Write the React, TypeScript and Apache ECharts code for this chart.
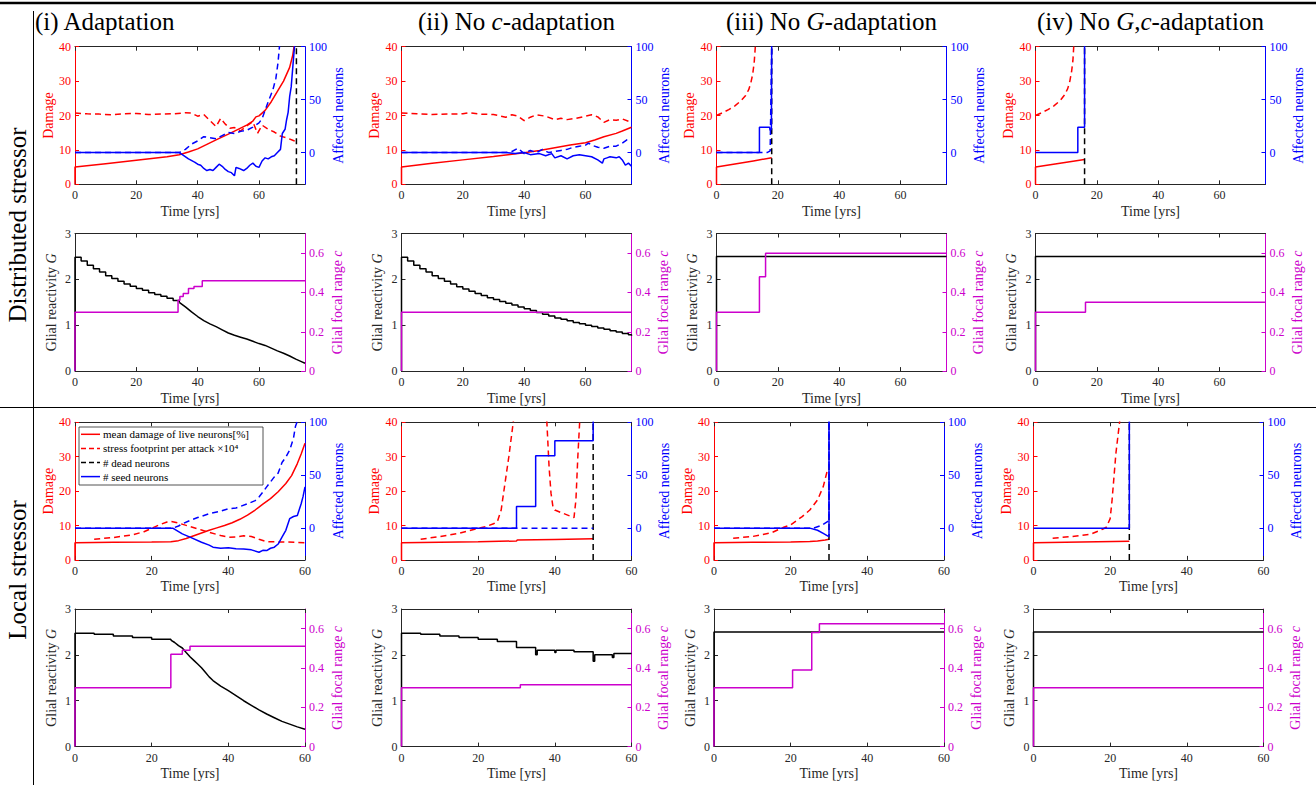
import React, { useEffect, useRef } from "react";
import * as echarts from "echarts";

type P = [number, number];

// ---------- text ----------
const columnTitles = [
  "{n|(i) Adaptation}",
  "{n|(ii) No }{i|c}{n|-adaptation}",
  "{n|(iii) No }{i|G}{n|-adaptation}",
  "{n|(iv) No }{i|G}{n|,}{i|c}{n|-adaptation}",
];
const rowTitles = ["Distributed stressor", "Local stressor"];
const legendLabels = [
  "mean damage of live neurons[%]",
  "stress footprint per attack ×10⁴",
  "# dead neurons",
  "# seed neurons",
];
const xAxisName = "Time [yrs]";
const damageName = "Damage";
const affectedName = "Affected neurons";
const gName = "{n|Glial reactivity }{i|G}";
const cName = "{n|Glial focal range }{i|c}";

// ---------- ticks / ranges ----------
const xTicks = [0, 20, 40, 60];
const damageTicks = [0, 10, 20, 30, 40];
const affectedTicks = [0, 50, 100];
const gTicks = [0, 1, 2, 3];
const cTicks = [0, 0.2, 0.4, 0.6];
const xMaxDistributed = 75;
const xMaxLocal = 60;
const damageRange = [0, 40];
const affectedRange = [-30, 100];
const gRange = [0, 3];
const cRange = [0, 0.7];

// ---------- Distributed stressor, damage panels ----------
const d1Damage: P[] = [[0, 0], [0, 5], [10, 6], [20, 7], [30, 8], [34, 8.6], [37, 9.4], [40, 10.3], [43, 11.6], [46, 12.9], [50, 14.6], [53, 15.9], [56, 17.2], [58, 18.4], [59, 19.6], [60, 19.9], [62, 21.5], [64, 24], [66, 27], [68, 30], [70, 34], [71, 37.5], [71.5, 40.5]];
const d1Stress: P[] = [[0, 20.7], [4, 20.5], [8, 20.4], [12, 20.2], [16, 20.5], [20, 20.6], [24, 20.3], [28, 20.4], [32, 20.5], [36, 20.8], [38, 20.7], [40, 19.8], [42, 20.3], [44, 18.5], [46, 16.8], [47.5, 19.2], [49, 17.5], [50.5, 16.3], [52, 16.5], [54, 15.5], [56, 17], [58, 18.2], [59.5, 14.8], [61, 17.2], [63, 16], [65, 15.2], [67, 14], [69, 13.5], [71, 12.8], [72.2, 12.3]];
const d1Dead: P[] = [[0, 0], [34, 0], [36, 3], [38, 8], [40, 11], [42, 15], [44, 14], [46, 13], [48, 16], [50, 19], [52, 18], [54, 20], [56, 21], [58, 24], [60, 28], [61, 32], [62, 40], [63, 48], [64.5, 59], [65.5, 70], [66.2, 85], [66.7, 101]];
const d1Seed: P[] = [[0, 0], [34, 0], [35, -2], [37, -6], [39, -9], [40, -11], [41, -12], [42, -15], [43, -17], [44, -16], [45, -17], [46, -14], [47, -11], [48, -13], [49, -16], [50, -18], [51, -19], [52, -22], [52.5, -14], [53.5, -15], [55, -17], [56, -15], [57, -12], [58, -10], [59, -13], [60, -14], [61, -8], [62, -5], [63, -6], [64, -4], [65, -3], [66, 0], [67, 3], [67.6, 18], [68.5, 22], [69, 31], [69.5, 38], [70, 53], [70.5, 62], [71, 80], [71.6, 101]];
const d1DeathT = 72.2;

const d2Damage: P[] = [[0, 0], [0, 5], [10, 6.1], [20, 7.1], [30, 8.1], [40, 9.2], [45, 9.8], [50, 10.6], [55, 11.4], [60, 12.1], [63, 12.9], [66, 13.8], [70, 14.8], [72, 15.5], [75, 16.6]];
const d2Stress: P[] = [[0, 20.7], [5, 20.5], [10, 20.3], [15, 20.4], [20, 20.5], [22, 20.8], [26, 20.4], [30, 20.3], [34, 19.5], [36, 20.2], [38, 19.8], [40, 18.5], [42, 19.5], [44, 20.2], [47, 19.8], [50, 18.8], [52, 19.2], [54, 18.8], [57, 19.2], [60, 19.8], [62, 20.2], [64, 19.6], [66, 18], [68, 18.8], [70, 18.6], [72, 19], [75, 18]];
const d2Dead: P[] = [[0, 0], [34, 0], [36, 1], [38, 4], [40, -1], [42, 2], [44, 0], [46, 3], [48, 0], [50, 1], [52, 2], [54, 3], [56, 5], [58, 6], [60, 7], [61, 9], [62, 7], [64, 5], [66, 4], [68, 6], [70, 6], [72, 9], [73.5, 12], [75, 13]];
const d2Seed: P[] = [[0, 0], [34, 0], [37, -1], [40, 0], [42, -2], [45, -1], [47, -3], [49, -1], [50, -5], [52, -3], [54, -6], [56, -3], [58, -2], [60, -3], [62, -4], [64, -7], [65.5, -10], [66, -6], [67, -5], [68, -4], [70, -5], [71, -4], [72, -7], [73, -12], [74, -10], [75, -13]];

const d3Damage: P[] = [[0, 0], [0, 5], [6, 5.9], [12, 6.8], [18, 7.7]];
const d3Stress: P[] = [[0, 20], [2, 20.8], [4, 21.7], [6, 22.8], [8, 24.3], [9.5, 25.8], [10.5, 27.5], [11.2, 29.5], [11.8, 32], [12.3, 35.5], [12.7, 40.5]];
const d3Dead: P[] = [[0, 0], [16.5, 0], [17.5, 1.5], [18, 101]];
const d3Seed: P[] = [[0, 0], [14, 0], [14, 24], [17.3, 24], [17.5, 21], [17.9, 22], [18, 101]];
const d3DeathT = 18;

const d4Damage: P[] = [[0, 0], [0, 5], [8, 6.1], [16, 7.2]];
const d4Stress: P[] = [[0, 20], [2, 20.8], [4, 21.7], [6, 22.8], [8, 24.3], [9.5, 26], [10.5, 27.8], [11.2, 30], [11.8, 33], [12.2, 36], [12.5, 40.5]];
const d4Seed: P[] = [[0, 0], [13.8, 0], [13.8, 24], [16, 24], [16, 101]];
const d4DeathT = 16;

// ---------- Distributed stressor, glia panels ----------
const dG1Steps: P[] = [[0, 0], [0, 2.48], [2, 2.4], [4, 2.31], [6, 2.23], [8, 2.16], [10, 2.08], [12, 2.02], [14, 1.96], [16, 1.9], [18, 1.85], [20, 1.8], [22, 1.76], [24, 1.71], [26, 1.67], [28, 1.63], [30, 1.59], [32, 1.54], [34, 1.5]];
const dG1Smooth: P[] = [[34, 1.5], [36, 1.4], [38, 1.29], [40, 1.19], [42, 1.1], [44, 1.03], [46, 0.97], [48, 0.9], [50, 0.83], [52, 0.78], [54, 0.74], [56, 0.7], [58, 0.65], [60, 0.6], [62, 0.56], [64, 0.5], [66, 0.44], [68, 0.39], [70, 0.33], [72, 0.26], [74, 0.2], [75, 0.17]];
const dC1: P[] = [[0, 0], [0, 0.3], [33.6, 0.36], [34.2, 0.38], [35.3, 0.395], [37, 0.42], [38.8, 0.43], [41.5, 0.46], [75, 0.46]];
const dG2: P[] = [[0, 0], [0, 2.48], [2, 2.4], [4, 2.31], [6, 2.23], [8, 2.16], [10, 2.08], [12, 2.02], [14, 1.96], [16, 1.9], [18, 1.84], [20, 1.79], [22, 1.74], [24, 1.69], [26, 1.65], [28, 1.6], [30, 1.56], [32, 1.52], [34, 1.48], [36, 1.44], [38, 1.4], [40, 1.36], [42, 1.32], [44, 1.28], [46, 1.24], [48, 1.2], [50, 1.16], [52, 1.13], [54, 1.1], [56, 1.06], [58, 1.03], [60, 1.0], [62, 0.97], [64, 0.94], [66, 0.91], [68, 0.88], [70, 0.85], [72, 0.82], [74, 0.79], [75, 0.77]];
const dC2: P[] = [[0, 0], [0, 0.3], [75, 0.3]];
const dG3: P[] = [[0, 0], [0, 2.5], [75, 2.5]];
const dC3: P[] = [[0, 0], [0, 0.3], [14, 0.48], [16, 0.6], [75, 0.6]];
const dG4: P[] = [[0, 0], [0, 2.5], [75, 2.5]];
const dC4: P[] = [[0, 0], [0, 0.3], [16.3, 0.35], [75, 0.35]];

// ---------- Local stressor, damage panels ----------
const l1Damage: P[] = [[0, 0], [0, 5], [10, 5.1], [20, 5.2], [25, 5.3], [27, 5.6], [29, 6.2], [31, 7], [33, 7.8], [35, 8.6], [37, 9.3], [39, 10], [41, 10.8], [43, 11.8], [45, 13], [47, 14.5], [49, 16.2], [51, 17.8], [53, 19.8], [55, 22.2], [56.5, 24.5], [58, 28], [59, 30.8], [60, 33.9]];
const l1Stress: P[] = [[5, 6], [10, 6.5], [15, 7.3], [18, 8.2], [20, 9.2], [22, 10.2], [24, 11], [25, 11.2], [27, 10.7], [30, 9.7], [33, 8.7], [35, 8], [38, 7.1], [40, 6.6], [42, 6.7], [44, 7], [46, 6.8], [48, 6], [50, 5.3], [55, 5.2], [60, 5]];
const l1Dead: P[] = [[0, 0], [25.5, 0], [27, 2], [28, 4], [30, 7.3], [32, 10], [35, 13.6], [38, 16], [40, 18.4], [42, 19], [45, 23], [47, 26], [48, 29.4], [49, 34], [50, 39], [52, 48.4], [53, 52], [54, 62], [55, 67], [56, 73.7], [57, 85], [57.5, 96], [58, 101]];
const l1Seed: P[] = [[0, 0], [25.5, 0], [28, -5.4], [30, -8.5], [33, -13.3], [35, -16], [36, -18], [38, -19], [40, -18.5], [42, -19.5], [44, -19.6], [46, -20.5], [48, -22.8], [49, -21], [50, -21.2], [51, -19], [52, -18], [53, -15], [54, -8.5], [55, -2], [56, 8.9], [57, 11], [58, 12], [59, 23], [59.5, 30], [60, 39]];

const l2Damage: P[] = [[0, 0], [0, 5], [10, 5.15], [20, 5.3], [30, 5.5], [30.2, 5.75], [40, 5.95], [50, 6.15]];
const l2StressA: P[] = [[5, 6], [10, 6.8], [15, 7.7], [20, 9.2], [22, 9.7], [24, 10.5], [25, 11.1], [26, 14.5], [27, 22.3], [28, 30], [29, 38.7], [29.2, 40.5]];
const l2StressB: P[] = [[37.9, 40.5], [38.5, 27], [39, 19.4], [39.5, 15.5], [40, 14.5], [42, 13.6], [45, 12.3], [45.5, 17.4], [46, 30], [46.5, 40.5]];
const l2Dead: P[] = [[0, 0], [50, 0]];
const l2Seed: P[] = [[0, 0], [30, 0], [30, 20.5], [35, 20.5], [35, 68.5], [40, 68.5], [40, 82.5], [50, 82.5], [50, 101]];
const l2DeathT = 50;

const l3Damage: P[] = [[0, 0], [0, 5], [10, 5.1], [20, 5.2], [25, 5.35], [27, 5.5], [29, 5.8], [30, 6]];
const l3Stress: P[] = [[5, 6.3], [10, 6.8], [15, 7.9], [18, 9.4], [20, 10.2], [23, 12.6], [25, 14.5], [27, 17.4], [28.5, 21.3], [29.5, 25.7]];
const l3Dead: P[] = [[0, 0], [26, 0], [28, 2.5], [29.5, 6], [30, 7], [30, 101]];
const l3Seed: P[] = [[0, 0], [25, 0], [27, -2], [28.5, -5], [29.5, -7], [30, -8], [30, 101]];
const l3DeathT = 30;

const l4Damage: P[] = [[0, 0], [0, 5], [25, 5.4]];
const l4Stress: P[] = [[5, 6.3], [10, 6.8], [15, 7.5], [18, 8.9], [19, 9.5], [20, 12], [20.5, 17.4], [21, 24.2], [21.5, 31], [22.5, 40.5]];
const l4Seed: P[] = [[0, 0], [25, 0], [25, 101]];
const l4DeathT = 25;

// ---------- Local stressor, glia panels ----------
const lG1Steps: P[] = [[0, 0], [0, 2.47], [5, 2.45], [10, 2.41], [15, 2.38], [20, 2.34], [25, 2.32]];
const lG1Smooth: P[] = [[25, 2.32], [26, 2.27], [27, 2.2], [28, 2.15], [29, 2.05], [30, 1.96], [31, 1.88], [32, 1.8], [33, 1.72], [34, 1.62], [35, 1.52], [36, 1.44], [37, 1.38], [38, 1.32], [39, 1.27], [40, 1.22], [42, 1.11], [44, 1.0], [46, 0.9], [48, 0.8], [50, 0.71], [52, 0.63], [54, 0.55], [56, 0.49], [58, 0.43], [60, 0.38]];
const lC1: P[] = [[0, 0], [0, 0.3], [25, 0.47], [28, 0.49], [30, 0.51], [60, 0.51]];
const lG2: P[] = [[0, 0], [0, 2.47], [5, 2.45], [10, 2.41], [15, 2.38], [20, 2.34], [25, 2.29], [30, 2.16], [35, 2.0], [35.4, 2.1], [40, 2.05], [40.3, 2.1], [45, 2.07], [50, 1.86], [50.4, 2.0], [55, 1.94], [55.4, 2.03], [60, 2.03]];
const lC2: P[] = [[0, 0], [0, 0.3], [31, 0.315], [60, 0.315]];
const lG3: P[] = [[0, 0], [0, 2.5], [60, 2.5]];
const lC3: P[] = [[0, 0], [0, 0.3], [20.5, 0.39], [25.5, 0.58], [27.5, 0.625], [60, 0.625]];
const lG4: P[] = [[0, 0], [0, 2.5], [60, 2.5]];
const lC4: P[] = [[0, 0], [0, 0.3], [60, 0.3]];

// ---------- styling / layout ----------
const SERIF = "Liberation Serif, serif";
const DARK = "#262626";
const RED = "#ff0000";
const BLUE = "#0000ff";
const MAG = "#cc00cc";
const BLK = "#000000";
const COL_LEFT_UP = [75, 401.5, 716.5, 1035.5];
const COL_LEFT_LOW = [75, 401.5, 714, 1033.5];
const ROW_TOP = [46.7, 233.5, 422.3, 609];
const PLOT_W = 230;
const PLOT_H = 137.6;

type S = { d: P[]; y: 0 | 1; c: string; dash?: boolean; step?: boolean };
type Panel = { row: number; col: number; kind: "dmg" | "glia"; xMax: number; series: S[] };

const vline = (t: number): P[] => [[t, affectedRange[0]], [t, affectedRange[1]]];

const panels: Panel[] = [
  { row: 0, col: 0, kind: "dmg", xMax: xMaxDistributed, series: [
    { d: d1Damage, y: 0, c: RED }, { d: d1Stress, y: 0, c: RED, dash: true },
    { d: vline(d1DeathT), y: 1, c: BLK, dash: true },
    { d: d1Dead, y: 1, c: BLUE, dash: true }, { d: d1Seed, y: 1, c: BLUE }] },
  { row: 0, col: 1, kind: "dmg", xMax: xMaxDistributed, series: [
    { d: d2Damage, y: 0, c: RED }, { d: d2Stress, y: 0, c: RED, dash: true },
    { d: d2Dead, y: 1, c: BLUE, dash: true }, { d: d2Seed, y: 1, c: BLUE }] },
  { row: 0, col: 2, kind: "dmg", xMax: xMaxDistributed, series: [
    { d: d3Damage, y: 0, c: RED }, { d: d3Stress, y: 0, c: RED, dash: true },
    { d: vline(d3DeathT), y: 1, c: BLK, dash: true },
    { d: d3Dead, y: 1, c: BLUE, dash: true }, { d: d3Seed, y: 1, c: BLUE }] },
  { row: 0, col: 3, kind: "dmg", xMax: xMaxDistributed, series: [
    { d: d4Damage, y: 0, c: RED }, { d: d4Stress, y: 0, c: RED, dash: true },
    { d: vline(d4DeathT), y: 1, c: BLK, dash: true }, { d: d4Seed, y: 1, c: BLUE }] },
  { row: 1, col: 0, kind: "glia", xMax: xMaxDistributed, series: [
    { d: dG1Steps, y: 0, c: BLK, step: true }, { d: dG1Smooth, y: 0, c: BLK }, { d: dC1, y: 1, c: MAG, step: true }] },
  { row: 1, col: 1, kind: "glia", xMax: xMaxDistributed, series: [
    { d: dG2, y: 0, c: BLK, step: true }, { d: dC2, y: 1, c: MAG, step: true }] },
  { row: 1, col: 2, kind: "glia", xMax: xMaxDistributed, series: [
    { d: dG3, y: 0, c: BLK, step: true }, { d: dC3, y: 1, c: MAG, step: true }] },
  { row: 1, col: 3, kind: "glia", xMax: xMaxDistributed, series: [
    { d: dG4, y: 0, c: BLK, step: true }, { d: dC4, y: 1, c: MAG, step: true }] },
  { row: 2, col: 0, kind: "dmg", xMax: xMaxLocal, series: [
    { d: l1Damage, y: 0, c: RED }, { d: l1Stress, y: 0, c: RED, dash: true },
    { d: l1Dead, y: 1, c: BLUE, dash: true }, { d: l1Seed, y: 1, c: BLUE }] },
  { row: 2, col: 1, kind: "dmg", xMax: xMaxLocal, series: [
    { d: l2Damage, y: 0, c: RED }, { d: l2StressA, y: 0, c: RED, dash: true }, { d: l2StressB, y: 0, c: RED, dash: true },
    { d: vline(l2DeathT), y: 1, c: BLK, dash: true },
    { d: l2Dead, y: 1, c: BLUE, dash: true }, { d: l2Seed, y: 1, c: BLUE }] },
  { row: 2, col: 2, kind: "dmg", xMax: xMaxLocal, series: [
    { d: l3Damage, y: 0, c: RED }, { d: l3Stress, y: 0, c: RED, dash: true },
    { d: vline(l3DeathT), y: 1, c: BLK, dash: true },
    { d: l3Dead, y: 1, c: BLUE, dash: true }, { d: l3Seed, y: 1, c: BLUE }] },
  { row: 2, col: 3, kind: "dmg", xMax: xMaxLocal, series: [
    { d: l4Damage, y: 0, c: RED }, { d: l4Stress, y: 0, c: RED, dash: true },
    { d: vline(l4DeathT), y: 1, c: BLK, dash: true }, { d: l4Seed, y: 1, c: BLUE }] },
  { row: 3, col: 0, kind: "glia", xMax: xMaxLocal, series: [
    { d: lG1Steps, y: 0, c: BLK, step: true }, { d: lG1Smooth, y: 0, c: BLK }, { d: lC1, y: 1, c: MAG, step: true }] },
  { row: 3, col: 1, kind: "glia", xMax: xMaxLocal, series: [
    { d: lG2, y: 0, c: BLK, step: true }, { d: lC2, y: 1, c: MAG, step: true }] },
  { row: 3, col: 2, kind: "glia", xMax: xMaxLocal, series: [
    { d: lG3, y: 0, c: BLK, step: true }, { d: lC3, y: 1, c: MAG, step: true }] },
  { row: 3, col: 3, kind: "glia", xMax: xMaxLocal, series: [
    { d: lG4, y: 0, c: BLK, step: true }, { d: lC4, y: 1, c: MAG, step: true }] },
];

function richName(color: string) {
  return {
    n: { fontFamily: SERIF, fontSize: 14, color },
    i: { fontFamily: SERIF, fontSize: 14, color, fontStyle: "italic" },
  };
}

function yAxisDef(i: number, side: "left" | "right", min: number, max: number, ticks: number[], color: string, lineColor: string, name: string, gap: number, rich?: any) {
  return {
    type: "value", gridIndex: i, position: side, min, max,
    axisLine: { show: true, onZero: false, lineStyle: { color: lineColor, width: 1 } },
    axisTick: { show: true, inside: true, length: 4, customValues: ticks, lineStyle: { color: lineColor } },
    axisLabel: { customValues: ticks, margin: 4, color, fontFamily: SERIF, fontSize: 12 },
    splitLine: { show: false },
    name, nameLocation: "middle", nameGap: gap, nameRotate: 90,
    nameTextStyle: rich ? { rich, fontFamily: SERIF, fontSize: 14, color } : { color, fontFamily: SERIF, fontSize: 14 },
  };
}

function buildOption() {
  const grid: any[] = [];
  const xAxis: any[] = [];
  const yAxis: any[] = [];
  const series: any[] = [];
  panels.forEach((p, i) => {
    const left = p.row < 2 ? COL_LEFT_UP[p.col] : COL_LEFT_LOW[p.col];
    grid.push({ left, top: ROW_TOP[p.row], width: PLOT_W, height: PLOT_H, containLabel: false });
    xAxis.push({
      type: "value", gridIndex: i, position: "bottom", min: 0, max: p.xMax,
      axisLine: { onZero: false, lineStyle: { color: DARK, width: 1 } },
      axisTick: { inside: true, length: 4, customValues: xTicks, lineStyle: { color: DARK } },
      axisLabel: { customValues: xTicks, margin: 5, color: DARK, fontFamily: SERIF, fontSize: 12 },
      splitLine: { show: false },
      name: xAxisName, nameLocation: "middle", nameGap: 20,
      nameTextStyle: { color: DARK, fontFamily: SERIF, fontSize: 14 },
    });
    xAxis.push({
      type: "value", gridIndex: i, position: "top", min: 0, max: p.xMax,
      axisLine: { onZero: false, lineStyle: { color: DARK, width: 1 } },
      axisTick: { inside: true, length: 4, customValues: xTicks, lineStyle: { color: DARK } },
      axisLabel: { show: false }, splitLine: { show: false },
    });
    if (p.kind === "dmg") {
      yAxis.push(yAxisDef(i, "left", damageRange[0], damageRange[1], damageTicks, RED, RED, damageName, 20));
      yAxis.push(yAxisDef(i, "right", affectedRange[0], affectedRange[1], affectedTicks, BLUE, BLUE, affectedName, 26));
    } else {
      yAxis.push(yAxisDef(i, "left", gRange[0], gRange[1], gTicks, DARK, DARK, gName, 17, richName(DARK)));
      yAxis.push(yAxisDef(i, "right", cRange[0], cRange[1], cTicks, MAG, MAG, cName, 25, richName(MAG)));
    }
    p.series.forEach((s) => {
      series.push({
        type: "line", xAxisIndex: 2 * i, yAxisIndex: 2 * i + s.y, data: s.d,
        symbol: "none", showSymbol: false, step: s.step ? "end" : false, silent: true,
        clip: true, animation: false,
        lineStyle: { color: s.c, width: 1.5, type: s.dash ? [6, 4] : "solid" },
      });
    });
  });

  const graphic: any[] = [
    { type: "line", shape: { x1: 0, y1: 3, x2: 1316, y2: 3 }, style: { stroke: "#000", lineWidth: 2.5 } },
    { type: "line", shape: { x1: 33.5, y1: 11, x2: 33.5, y2: 785 }, style: { stroke: "#000", lineWidth: 1 } },
    { type: "line", shape: { x1: 0, y1: 407.5, x2: 1316, y2: 407.5 }, style: { stroke: "#000", lineWidth: 1 } },
  ];
  const titleRich = {
    n: { fontFamily: SERIF, fontSize: 25, fill: "#000", color: "#000" },
    i: { fontFamily: SERIF, fontSize: 25, fontStyle: "italic", fill: "#000", color: "#000" },
  };
  columnTitles.forEach((t, c) => {
    const cx = c === 0 ? 35 : COL_LEFT_UP[c] + PLOT_W / 2;
    graphic.push({
      type: "text", x: cx, y: 21,
      style: { text: t, rich: titleRich, textAlign: c === 0 ? "left" : "center", textVerticalAlign: "middle", fontFamily: SERIF, fontSize: 25, fill: "#000" },
    });
  });
  const rowCenters = [225, 570];
  rowTitles.forEach((t, r) => {
    graphic.push({
      type: "text", x: 17, y: rowCenters[r], rotation: Math.PI / 2,
      style: { text: t, textAlign: "center", textVerticalAlign: "middle", fontFamily: SERIF, fontSize: 25, fill: "#000" },
    });
  });
  // legend box in local / adaptation panel
  graphic.push({ type: "rect", z: 100, shape: { x: 79, y: 427, width: 184, height: 58 }, style: { fill: "#fff", stroke: DARK, lineWidth: 0.8 } });
  const legendStyles = [
    { c: RED, dash: false }, { c: RED, dash: true }, { c: BLK, dash: true }, { c: BLUE, dash: false },
  ];
  legendLabels.forEach((t, k) => {
    const y = 434.3 + k * 14.1;
    graphic.push({
      type: "line", z: 101, shape: { x1: 81, y1: y, x2: 100, y2: y },
      style: { stroke: legendStyles[k].c, lineWidth: 1.5, lineDash: legendStyles[k].dash ? [5, 3] : null },
    });
    graphic.push({
      type: "text", z: 101, x: 103, y,
      style: { text: t, textAlign: "left", textVerticalAlign: "middle", fontFamily: SERIF, fontSize: 11, fill: "#000" },
    });
  });

  return { animation: false, backgroundColor: "#fff", textStyle: { fontFamily: SERIF }, grid, xAxis, yAxis, series, graphic };
}

export default function App() {
  const ref = useRef<HTMLDivElement>(null);
  useEffect(() => {
    if (!ref.current) return;
    const chart = echarts.init(ref.current, undefined, { renderer: "svg" });
    chart.setOption(buildOption() as any);
    return () => chart.dispose();
  }, []);
  return (
    <div
      ref={ref}
      style={{ position: "absolute", left: 0, top: 0, width: 1316, height: 785, background: "#fff" }}
    />
  );
}
